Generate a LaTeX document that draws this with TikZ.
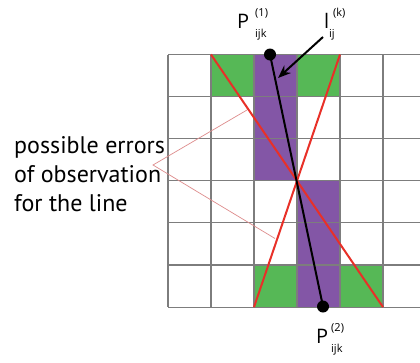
\documentclass[tikz,border=0pt]{standalone}
\usepackage{fontspec}
\setmainfont{PT Sans}
\newfontfamily\lblfont{Open Sans}
\usetikzlibrary{arrows.meta}
\definecolor{cellgreen}{RGB}{86,184,86}
\definecolor{cellpurple}{RGB}{131,86,166}
\definecolor{gridgray}{RGB}{125,125,125}
\definecolor{errred}{RGB}{232,48,40}
\definecolor{pinkline}{RGB}{222,140,140}
\tikzset{
  gridline/.style={draw=gridgray, line width=1.1pt},
  redline/.style={draw=errred, line width=2pt},
  thinpink/.style={draw=pinkline, line width=0.7pt},
  obsline/.style={draw=black, line width=2pt},
  dotnode/.style={circle, fill=black, inner sep=0pt, minimum size=12pt},
  lbl/.style={inner sep=0pt, font=\lblfont\fontsize{20}{20}\selectfont},
  idx/.style={inner sep=0pt, font=\lblfont\fontsize{11}{11}\selectfont},
  errtext/.style={inner sep=0pt, align=left, font=\fontsize{24}{29}\selectfont}
}
\begin{document}
\begin{tikzpicture}[x=1pt,y=-1pt]
\useasboundingbox (0,0) rectangle (420,362);
\fill[white] (0,0) rectangle (420,362);
% cell fills
\fill[cellgreen] (211,54.5) rectangle (254,96.6);
\fill[cellgreen] (297,54.5) rectangle (340,96.6);
\fill[cellpurple] (254,54.5) rectangle (297,180.8);
\fill[cellpurple] (297,180.8) rectangle (340,307.1);
\fill[cellgreen] (254,265) rectangle (297,307.1);
\fill[cellgreen] (340,265) rectangle (383,307.1);
% grid
\foreach \x in {168,211,254,297,340,383} {\draw[gridline] (\x,54.5) -- (\x,307.1);}
\foreach \y in {54.5,96.6,138.7,180.8,222.9,265,307.1} {\draw[gridline] (168,\y) -- (420,\y);}
% red error lines
\coordinate (ra) at (211,54.5);
\coordinate (rb) at (383,307.1);
\coordinate (rc) at (340,54.5);
\coordinate (rd) at (254,307.1);
\draw[redline] (ra) -- (rb);
\draw[redline] (rc) -- (rd);
% pink pointer lines
\coordinate (apex) at (153,165);
\coordinate (pu) at (247,110);
\coordinate (pl) at (275,238.5);
\draw[thinpink] (pu) -- (apex) -- (pl);
% observed line
\node[dotnode] (p1) at (270,54.5) {};
\node[dotnode] (p2) at (323,306.5) {};
\draw[obsline] (p1.center) -- (p2.center);
% labels
\node[lbl, anchor=base west] (P1) at (237,28) {P};
\node[idx, anchor=base west] (P1s) at (255,16) {(1)};
\node[idx, anchor=base west] (P1b) at (255,37) {ijk};
\node[lbl, anchor=base west] (L) at (324,28) {l};
\node[idx, anchor=base west] (Ls) at (333,16) {(k)};
\node[idx, anchor=base west] (Lb) at (329,37) {ij};
\node[lbl, anchor=base west] (P2) at (316,343) {P};
\node[idx, anchor=base west] (P2s) at (331,331) {(2)};
\node[idx, anchor=base west] (P2b) at (331,352) {ijk};
% arrow
\coordinate (astart) at (323,37);
\coordinate (atip) at (278,78);
\draw[obsline, -{Stealth[length=13pt,width=10pt]}] (astart) -- (atip);
% error text
\node[errtext, anchor=base west] (err) at (14,211.7) {possible errors\\of observation\\for the line};
\end{tikzpicture}
\end{document}
